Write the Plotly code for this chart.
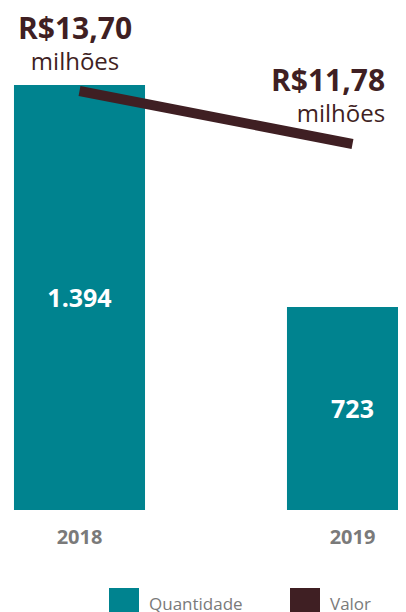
import plotly.graph_objects as go

years = ["2018", "2019"]
quantidade = [1394, 723]
quantidade_labels = ["1.394", "723"]
valor = [13.70, 11.78]
valor_labels = ["R$13,70", "R$11,78"]
valor_unit = "milhões"

TEAL = "#00838f"
DARK = "#3f1f23"
GRAY = "#7a7a7a"
FONT = "Open Sans"

Y_MIN = 109
PW = 398.0  # plot width in px
PH = 502.0  # plot height in px

fig = go.Figure()
fig.add_trace(go.Bar(
    x=[0, 1], y=[q - Y_MIN for q in quantidade], base=Y_MIN, width=0.48,
    marker_color=TEAL, marker_line_width=0,
    text=quantidade_labels, textposition="inside", insidetextanchor="middle",
    textfont=dict(family=FONT, size=25, color="white", weight="bold"),
    name="Quantidade", showlegend=False, cliponaxis=True, hoverinfo="skip",
))
fig.add_trace(go.Scatter(
    x=[0, 1], y=valor, yaxis="y2", mode="lines",
    line=dict(color=DARK, width=10), name="Valor", showlegend=False,
))

annotations = []
ann_x = [67, 378]
ann_xanchor = ["center", "right"]
ann_align = ["center", "right"]
ann_shift = [49, 50]
for i in range(2):
    annotations.append(dict(
        x=ann_x[i] / PW, xref="paper", y=valor[i], yref="y2",
        text="<span style='font-size:30px'><b>" + valor_labels[i] + "</b></span><br>" + valor_unit,
        showarrow=False, align=ann_align[i],
        font=dict(family=FONT, size=24, color=DARK),
        xanchor=ann_xanchor[i], yanchor="middle", borderpad=0,
        yshift=ann_shift[i],
    ))

# manual legend (large square swatches)
legend_items = [("Quantidade", TEAL, 101), ("Valor", DARK, 282)]
shapes = []
for name, col, px in legend_items:
    shapes.append(dict(type="rect", xref="paper", yref="paper",
                       x0=px / PW, x1=(px + 30) / PW,
                       y0=(PH - 610) / PH, y1=(PH - 580) / PH,
                       fillcolor=col, line_width=0))
    annotations.append(dict(x=(px + 38) / PW, xref="paper", y=(PH - 595) / PH, yref="paper",
                            text=name, showarrow=False, xanchor="left", yanchor="middle",
                            font=dict(family=FONT, size=17, color=GRAY)))

fig.update_layout(
    width=406, height=612,
    margin=dict(l=0, r=406 - PW, t=0, b=612 - PH),
    paper_bgcolor="white", plot_bgcolor="white",
    xaxis=dict(range=[-71.5 / 273, 326.5 / 273], tickvals=[0, 1], ticktext=years,
               showgrid=False, zeroline=False, showline=False, ticks="",
               tickfont=dict(family=FONT, size=20, color=GRAY, weight="bold"),
               ticklabelstandoff=13, fixedrange=True),
    yaxis=dict(range=[Y_MIN, Y_MIN + PH / 0.3308], visible=False, showgrid=False),
    yaxis2=dict(range=[-1.481, 16.707], overlaying="y", visible=False, showgrid=False),
    annotations=annotations, shapes=shapes,
    showlegend=False,
)

fig.write_html("out.html")
